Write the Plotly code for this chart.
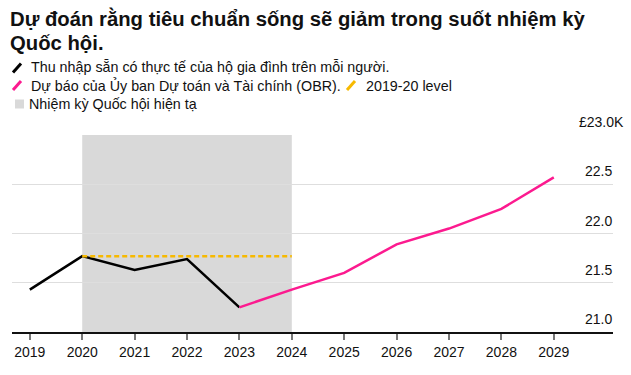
import plotly.graph_objects as go

# ---- data ----
years_actual = [2019, 2020, 2021, 2022, 2023]
income_actual = [21.43, 21.77, 21.63, 21.74, 21.25]
years_forecast = [2023, 2024, 2025, 2026, 2027, 2028, 2029]
income_forecast = [21.25, 21.43, 21.60, 21.89, 22.05, 22.25, 22.57]
level_years = [2020, 2024]
level_2019_20 = [21.77, 21.77]
term_start, term_end = 2020, 2024
x_ticks = list(range(2019, 2030))
y_ticks = [21.0, 21.5, 22.0, 22.5, 23.0]
y_tick_labels = ["21.0", "21.5", "22.0", "22.5", "£23.0K"]

title_lines = ["Dự đoán rằng tiêu chuẩn sống sẽ giảm trong suốt nhiệm kỳ", "Quốc hội."]
legend_items = [
    "Thu nhập sẵn có thực tế của hộ gia đình trên mỗi người.",
    "Dự báo của Ủy ban Dự toán và Tài chính (OBR).",
    "2019-20 level",
    "Nhiệm kỳ Quốc hội hiện tạ",
]

BLACK = "#000000"
PINK = "#fc1a8f"
GOLD = "#f7b900"
GREY = "#d9d9d9"
FONT = "Liberation Sans, Arial, sans-serif"

W, H = 631, 375
ML, MR, MT, MB = 12, 18, 135, 43
PW, PH = W - ML - MR, H - MT - MB


def px(x):
    return (x - ML) / PW


def py(y):
    return (H - MB - y) / PH


fig = go.Figure()
fig.add_trace(go.Scatter(x=years_actual, y=income_actual, mode="lines",
                         line=dict(color=BLACK, width=2.5), showlegend=False))
fig.add_trace(go.Scatter(x=years_forecast, y=income_forecast, mode="lines",
                         line=dict(color=PINK, width=2.5), showlegend=False))
fig.add_trace(go.Scatter(x=level_years, y=level_2019_20, mode="lines",
                         line=dict(color=GOLD, width=2.5, dash="5px,3px"), showlegend=False))

shapes = [
    dict(type="rect", xref="x", yref="paper", x0=term_start, x1=term_end, y0=0, y1=1,
         fillcolor=GREY, line=dict(width=0), layer="below"),
]


def slash(x0, y0, x1, y1, color):
    return dict(type="line", xref="paper", yref="paper", x0=px(x0), y0=py(y0),
                x1=px(x1), y1=py(y1), line=dict(color=color, width=3))


shapes += [
    slash(13, 72.5, 21, 63.5, BLACK),
    slash(13, 90, 21, 81, PINK),
    slash(347, 90, 355, 81, GOLD),
    dict(type="rect", xref="paper", yref="paper", x0=px(15), x1=px(24), y0=py(108.5),
         y1=py(99.5), fillcolor=GREY, line=dict(width=0)),
]


def label(text, x, y, size, bold=False):
    return dict(text=("<b>%s</b>" % text) if bold else text, xref="paper", yref="paper",
                x=px(x), y=py(y), xanchor="left", yanchor="middle", showarrow=False,
                font=dict(family=FONT, size=size, color="#111"))


annotations = [
    label(title_lines[0], 8, 18, 20.3, bold=True),
    label(title_lines[1], 8, 42.5, 20.3, bold=True),
    label(legend_items[0], 29, 67, 14.3),
    label(legend_items[1], 29, 85.8, 14.3),
    label(legend_items[2], 364, 85.8, 14.3),
    label(legend_items[3], 27, 103.8, 14.3),
]
for v, lab in zip(y_ticks, y_tick_labels):
    is_k = lab.endswith("K")
    annotations.append(dict(text=lab, xref="paper", yref="y", x=1, y=v,
                            xanchor="right", yanchor="middle", xshift=13 if is_k else 1,
                            yshift=13, showarrow=False,
                            font=dict(family=FONT, size=14, color="#111")))

fig.update_layout(
    width=W, height=H,
    margin=dict(l=ML, r=MR, t=MT, b=MB, autoexpand=False),
    paper_bgcolor="white", plot_bgcolor="white",
    shapes=shapes, annotations=annotations,
    xaxis=dict(range=[2018.66, 2030.13], tickvals=x_ticks, ticks="outside", ticklen=6,
               tickwidth=1.5, tickcolor="#777", showline=True, linecolor="#111", linewidth=1.5,
               showgrid=False, zeroline=False, automargin=False,
               tickfont=dict(family=FONT, size=14, color="#111")),
    yaxis=dict(range=[21.0, 23.0], tickvals=y_ticks, showticklabels=False, showgrid=True,
               gridcolor="#dedede", gridwidth=1, zeroline=False, showline=False,
               automargin=False),
    showlegend=False,
    hovermode=False,
)
fig.write_html(
    "out.html",
    config={"displayModeBar": False},
    post_script="document.body.style.margin='0';document.body.style.padding='0';",
)
